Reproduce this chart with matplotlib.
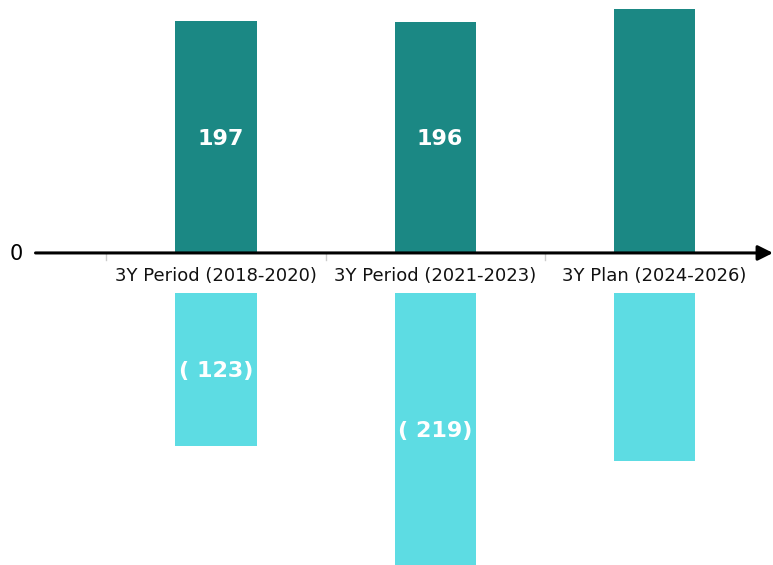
import matplotlib
matplotlib.use('Agg')
import matplotlib.pyplot as plt

categories = ['3Y Period (2018-2020)', '3Y Period (2021-2023)', '3Y Plan (2024-2026)']
inflows = [197, 196, 207]
outflows = [123, 219, 135]
inflow_labels = ['197', '196', '']
outflow_labels = ['( 123)', '( 219)', '']

DARK = '#1b8884'
LIGHT = '#5ddce3'

fig = plt.figure(figsize=(7.73, 5.65), dpi=100)
ax = fig.add_axes([0, 0, 1, 1])
ax.set_xlim(-0.985, 2.54)
ax.set_ylim(-265, 214.8)
ax.axis('off')

# outflows sit on their own scale, hung below the category labels
ax2 = fig.add_axes([0, 0, 1, 1], sharex=ax)
ax2.set_ylim(-218.5, 235.3)
ax2.axis('off')

x = list(range(len(categories)))
ax.bar(x, inflows, width=0.37, color=DARK)
ax2.bar(x, [-v for v in outflows], width=0.37, color=LIGHT)

for i, (v, lab) in enumerate(zip(inflows, inflow_labels)):
    if lab:
        ax.text(i + 0.02, v / 2 - 1.5, lab, ha='center', va='center', color='white',
                fontsize=16, fontweight='bold')
for i, (v, lab) in enumerate(zip(outflows, outflow_labels)):
    if lab:
        ax2.text(i, -v / 2 - 1, lab, ha='center', va='center', color='white',
                 fontsize=16, fontweight='bold')

# axis with arrow
ax.annotate('', xy=(2.54, 0), xytext=(-0.823, 0),
            arrowprops=dict(arrowstyle='-|>,head_length=0.9,head_width=0.45',
                            color='black', lw=2.2, shrinkA=0, shrinkB=0))
ax.text(-0.91, -1, '0', ha='center', va='center', fontsize=15)

# small separators and category labels
for i in range(len(categories)):
    ax.plot([i - 0.5, i - 0.5], [-1, -6], color='#cccccc', lw=1)
    ax.text(i, -20, categories[i], ha='center', va='center', fontsize=13,
            color='#111111')

fig.savefig('out.png', dpi=100)
